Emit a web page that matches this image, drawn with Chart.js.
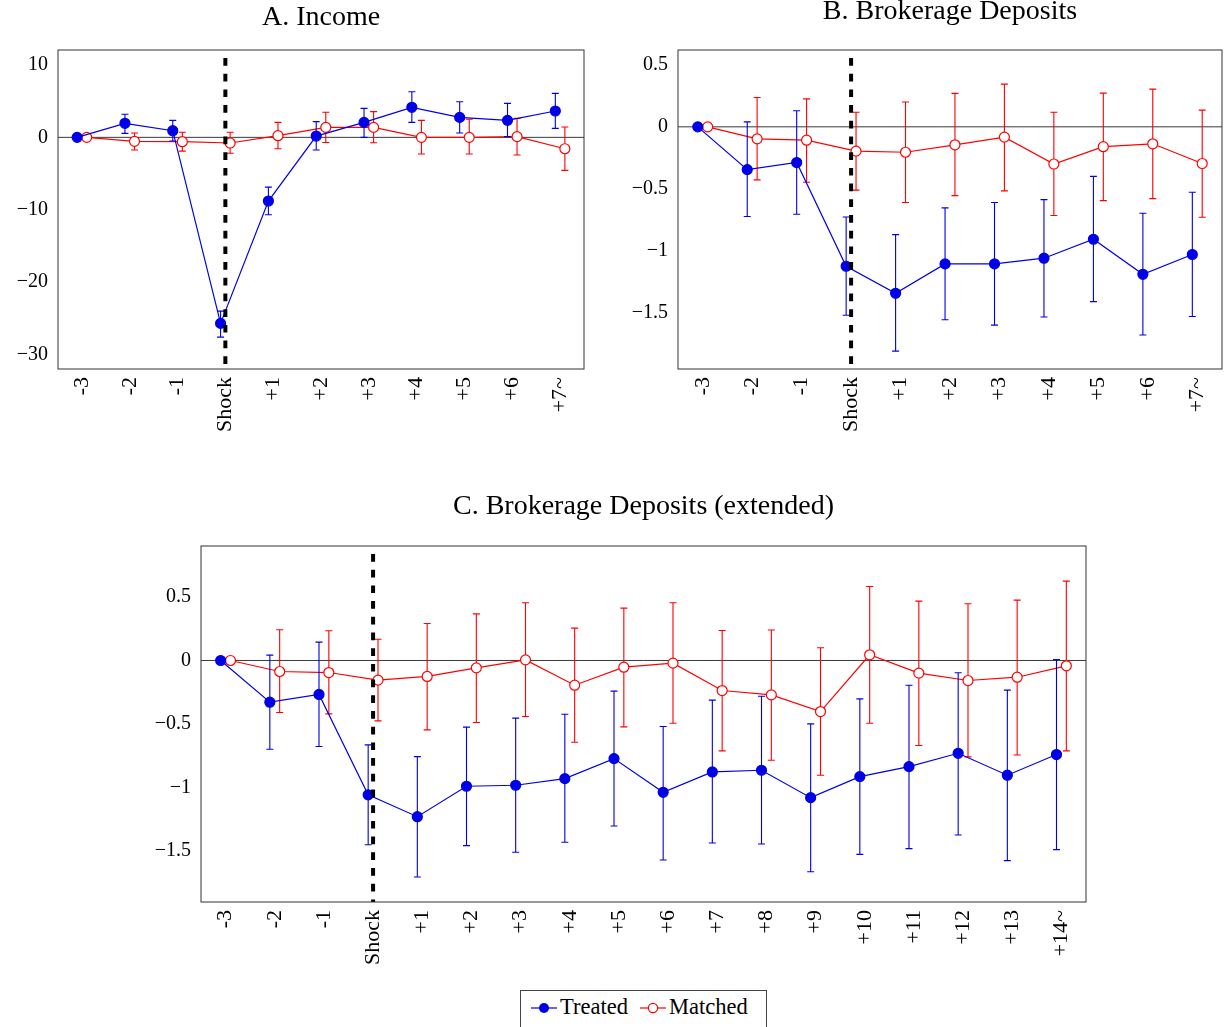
<!DOCTYPE html>
<html>
<head>
<meta charset="utf-8">
<script src="https://cdn.jsdelivr.net/npm/chart.js@4.4.1/dist/chart.umd.min.js"></script>
<style>
  body { margin: 0; background: #fff; width: 1225px; height: 1027px; overflow: hidden; position: relative; font-family: "Liberation Serif", serif; }
  canvas { position: absolute; }
  #legend { position: absolute; left: 520px; top: 990px; width: 247px; height: 50px; border: 1px solid #444; box-sizing: border-box; font-size: 22.5px; }
  #legend svg, #legend span { position: absolute; }
</style>
</head>
<body>
<canvas id="chartA"></canvas>
<canvas id="chartB"></canvas>
<canvas id="chartC"></canvas>
<div id="legend">
  <svg style="left:9px;top:7px" width="28" height="20"><line x1="1" y1="10" x2="27" y2="10" stroke="#0000e6" stroke-width="1.2"/><circle cx="14" cy="10" r="5" fill="#0000e6"/></svg>
  <span style="left:39px;top:3px">Treated</span>
  <svg style="left:118px;top:7px" width="28" height="20"><line x1="1" y1="10" x2="27" y2="10" stroke="#ff0000" stroke-width="1.2"/><circle cx="14" cy="10" r="4.6" fill="#fff" stroke="#ff0000" stroke-width="1.2"/></svg>
  <span style="left:148px;top:3px">Matched</span>
</div>
<script>
// periods
const periodsShort = ["-3", "-2", "-1", "Shock", "+1", "+2", "+3", "+4", "+5", "+6", "+7~"];
const periodsLong = ["-3", "-2", "-1", "Shock", "+1", "+2", "+3", "+4", "+5", "+6", "+7", "+8", "+9", "+10", "+11", "+12", "+13", "+14~"];

// A. Income
const incomeTreated = [0, 1.94, 0.92, -25.7, -8.8, 0.18, 2.07, 4.15, 2.76, 2.35, 3.64];
const incomeTreatedHi = [null, 3.2, 2.35, -24.0, -6.87, 2.17, 4.0, 6.3, 4.93, 4.7, 6.08];
const incomeTreatedLo = [null, 0.55, -0.5, -27.6, -10.7, -1.75, 0.0, 2.07, 0.6, 0.1, 1.24];
const incomeMatched = [0, -0.55, -0.6, -0.78, 0.23, 1.38, 1.38, 0, 0, 0.1, -1.57];
const incomeMatchedHi = [null, 0.6, 0.7, 0.7, 2.07, 3.46, 3.55, 2.35, 2.5, 2.63, 1.43];
const incomeMatchedLo = [null, -1.75, -1.9, -2.2, -1.57, -0.7, -0.74, -2.3, -2.3, -2.44, -4.56];
const incomeTicks = [10, 0, -10, -20, -30];

// B. Brokerage deposits
const depTreated = [0, -0.345, -0.288, -1.125, -1.343, -1.106, -1.106, -1.06, -0.907, -1.19, -1.03];
const depTreatedHi = [null, 0.04, 0.13, -0.727, -0.87, -0.654, -0.611, -0.587, -0.40, -0.697, -0.528];
const depTreatedLo = [null, -0.724, -0.705, -1.52, -1.81, -1.556, -1.6, -1.534, -1.41, -1.68, -1.53];
const depMatched = [0, -0.097, -0.108, -0.196, -0.205, -0.145, -0.083, -0.3, -0.16, -0.137, -0.296];
const depMatchedHi = [null, 0.237, 0.226, 0.118, 0.2, 0.27, 0.345, 0.118, 0.272, 0.304, 0.135];
const depMatchedLo = [null, -0.428, -0.447, -0.511, -0.61, -0.555, -0.517, -0.716, -0.595, -0.579, -0.73];
const depTicks = [0.5, 0, -0.5, -1, -1.5];

// C. Brokerage deposits (extended)
const extTreated = [0, -0.329, -0.268, -1.06, -1.232, -0.992, -0.984, -0.932, -0.774, -1.04, -0.879, -0.866, -1.082, -0.916, -0.837, -0.732, -0.905, -0.742];
const extTreatedHi = [null, 0.042, 0.145, -0.666, -0.758, -0.526, -0.455, -0.424, -0.242, -0.521, -0.313, -0.282, -0.5, -0.303, -0.195, -0.097, -0.234, 0.008];
const extTreatedLo = [null, -0.7, -0.679, -1.453, -1.708, -1.46, -1.513, -1.434, -1.305, -1.574, -1.44, -1.447, -1.666, -1.529, -1.484, -1.376, -1.579, -1.492];
const extMatched = [0, -0.087, -0.095, -0.155, -0.126, -0.058, 0.005, -0.195, -0.053, -0.021, -0.237, -0.271, -0.403, 0.045, -0.1, -0.158, -0.132, -0.042];
const extMatchedHi = [null, 0.242, 0.234, 0.168, 0.292, 0.368, 0.455, 0.255, 0.413, 0.455, 0.237, 0.24, 0.1, 0.584, 0.468, 0.447, 0.476, 0.626];
const extMatchedLo = [null, -0.41, -0.421, -0.476, -0.547, -0.489, -0.442, -0.645, -0.524, -0.495, -0.713, -0.787, -0.905, -0.495, -0.671, -0.76, -0.745, -0.713];

const BLUE = "#0000e6";
const RED = "#ff0000";
const FONT = "'Liberation Serif', serif";
const SHIFT = 0.1; // treated left of tick, matched right of it

// error bars drawn right before each dataset, then the frame / zero line / shock line
const decor = {
    id: "decor",
    beforeDatasetsDraw(chart) {
        const { ctx, chartArea: a, scales } = chart;
        const y0 = scales.y.getPixelForValue(0);
        ctx.save();
        ctx.strokeStyle = "#222";
        ctx.lineWidth = 0.9;
        ctx.beginPath();
        ctx.moveTo(a.left, y0);
        ctx.lineTo(a.right, y0);
        ctx.stroke();
        ctx.restore();
    },
    beforeDatasetDraw(chart, args) {
        const ds = chart.data.datasets[args.index];
        const y = chart.scales.y;
        const ctx = chart.ctx;
        ctx.save();
        ctx.strokeStyle = ds.borderColor;
        ctx.lineWidth = 1.1;
        args.meta.data.forEach((pt, i) => {
            if (ds.errHi[i] == null) return;
            const top = y.getPixelForValue(ds.errHi[i]);
            const bot = y.getPixelForValue(ds.errLo[i]);
            ctx.beginPath();
            ctx.moveTo(pt.x, top);
            ctx.lineTo(pt.x, bot);
            ctx.moveTo(pt.x - 3.5, top);
            ctx.lineTo(pt.x + 3.5, top);
            ctx.moveTo(pt.x - 3.5, bot);
            ctx.lineTo(pt.x + 3.5, bot);
            ctx.stroke();
        });
        ctx.restore();
    },
    afterDatasetsDraw(chart) {
        const { ctx, chartArea: a, scales } = chart;
        const xs = scales.x.getPixelForValue(0);
        ctx.save();
        ctx.strokeStyle = "#000";
        ctx.lineWidth = 4;
        ctx.setLineDash([7.7, 8]);
        ctx.lineDashOffset = -8;
        ctx.beginPath();
        ctx.moveTo(xs, a.top);
        ctx.lineTo(xs, a.bottom);
        ctx.stroke();
        ctx.setLineDash([]);
        ctx.strokeStyle = "#333";
        ctx.lineWidth = 1;
        ctx.strokeRect(a.left, a.top, a.right - a.left, a.bottom - a.top);
        ctx.restore();
    },
};

function series(label, values, hi, lo, shift, color, filled) {
    return {
        label: label,
        data: values.map((v, i) => ({ x: i - 3 + shift, y: v })),
        errHi: hi,
        errLo: lo,
        borderColor: color,
        borderWidth: 1.2,
        pointRadius: 5,
        pointHoverRadius: 5,
        pointBorderWidth: 1.2,
        pointBackgroundColor: filled ? color : "#fff",
        pointBorderColor: color,
        tension: 0,
        clip: false,
    };
}

function makeChart(id, box, title, cats, yTicks, yRange, treated, matched) {
    const canvas = document.getElementById(id);
    canvas.width = box.w;
    canvas.height = box.h;
    canvas.style.left = box.left + "px";
    canvas.style.top = box.top + "px";
    canvas.style.width = box.w + "px";
    canvas.style.height = box.h + "px";
    return new Chart(canvas.getContext("2d"), {
        type: "line",
        data: {
            datasets: [
                series("Treated", treated[0], treated[1], treated[2], -SHIFT, BLUE, true),
                series("Matched", matched[0], matched[1], matched[2], SHIFT, RED, false),
            ],
        },
        options: {
            responsive: false,
            animation: false,
            devicePixelRatio: 1,
            layout: { padding: { left: 0, right: box.padRight, top: 0, bottom: 0 } },
            plugins: {
                legend: { display: false },
                tooltip: { enabled: false },
                title: {
                    display: true,
                    fullSize: false,
                    text: title,
                    color: "#000",
                    font: { family: FONT, size: 28, weight: "normal" },
                    padding: { top: box.titleTop, bottom: box.titleBottom },
                },
            },
            scales: {
                x: {
                    type: "linear",
                    min: -3.5,
                    max: cats.length - 3.5,
                    grid: { display: false, drawTicks: false },
                    border: { display: false },
                    afterBuildTicks: (s) => { s.ticks = cats.map((c, i) => ({ value: i - 3 })); },
                    afterFit: (s) => { s.height = box.xAxisH; },
                    ticks: {
                        autoSkip: false,
                        minRotation: 90,
                        maxRotation: 90,
                        padding: 8,
                        color: "#000",
                        font: { family: FONT, size: 22 },
                        callback: (v) => cats[Math.round(v) + 3],
                    },
                },
                y: {
                    min: yRange[0],
                    max: yRange[1],
                    grid: { display: false, drawTicks: false },
                    border: { display: false },
                    afterBuildTicks: (s) => { s.ticks = yTicks.map((v) => ({ value: v })); },
                    afterFit: (s) => { s.width = box.yAxisW; },
                    ticks: {
                        padding: 10,
                        color: "#000",
                        font: { family: FONT, size: 20 },
                        callback: (v) => (v < 0 ? "\u2212" + Math.abs(v) : String(v)),
                    },
                },
            },
        },
        plugins: [decor],
    });
}

makeChart("chartA",
    { left: 0, top: 0, w: 612, h: 450, yAxisW: 58, padRight: 28, xAxisH: 81, titleTop: 1.2, titleBottom: 15.2 },
    "A. Income", periodsShort, incomeTicks, [-32.0, 12.07],
    [incomeTreated, incomeTreatedHi, incomeTreatedLo],
    [incomeMatched, incomeMatchedHi, incomeMatchedLo]);

makeChart("chartB",
    { left: 612, top: -6, w: 624, h: 450, yAxisW: 66, padRight: 14, xAxisH: 75, titleTop: 1.2, titleBottom: 21.2 },
    "B. Brokerage Deposits", periodsShort, depTicks, [-1.954, 0.62],
    [depTreated, depTreatedHi, depTreatedLo],
    [depMatched, depMatchedHi, depMatchedLo]);

makeChart("chartC",
    { left: 0, top: 480, w: 1225, h: 500, yAxisW: 201, padRight: 139, xAxisH: 78, titleTop: 10.2, titleBottom: 22.2 },
    "C. Brokerage Deposits (extended)", periodsLong, depTicks, [-1.905, 0.903],
    [extTreated, extTreatedHi, extTreatedLo],
    [extMatched, extMatchedHi, extMatchedLo]);
</script>
</body>
</html>
